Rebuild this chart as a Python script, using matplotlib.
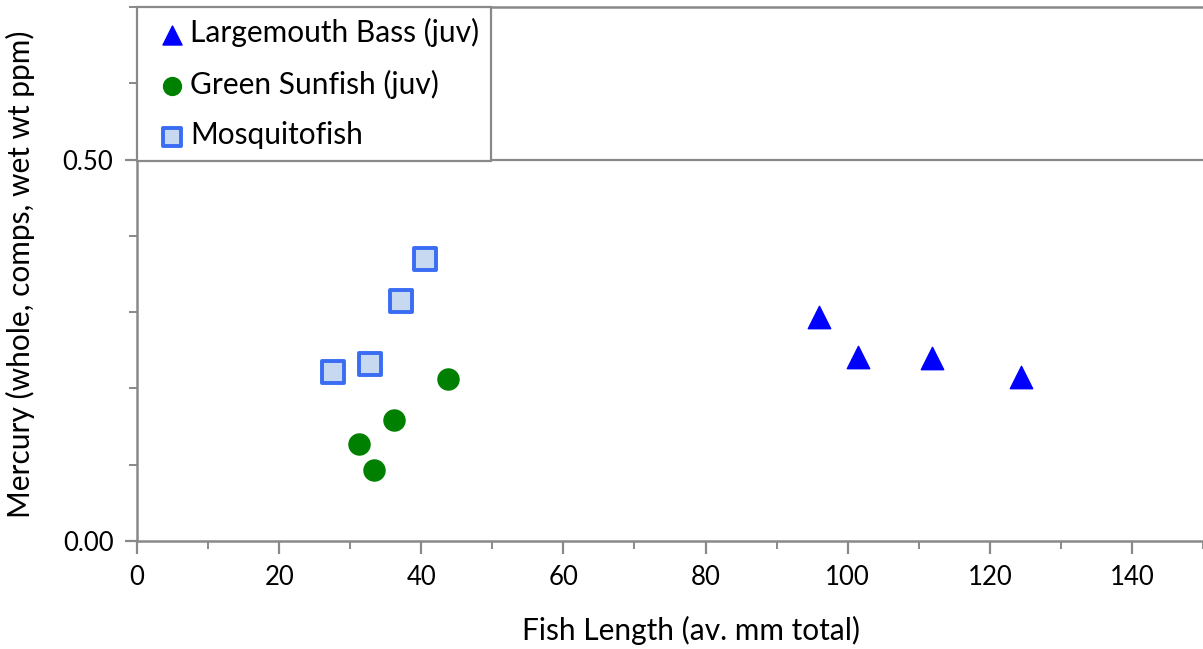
import matplotlib.pyplot as plt
from matplotlib.ticker import MultipleLocator

plt.rcParams['font.family'] = ['Lato', 'DejaVu Sans']

# fish length (mm) and mercury (ppm)
bass_len = [95.9, 101.4, 111.9, 124.4]
bass_hg = [0.294, 0.241, 0.240, 0.215]
sunfish_len = [43.7, 36.1, 31.3, 33.3]
sunfish_hg = [0.213, 0.159, 0.127, 0.093]
mosq_len = [27.6, 32.8, 37.1, 40.5]
mosq_hg = [0.222, 0.232, 0.315, 0.370]

grey = '#898989'

fig = plt.figure(figsize=(12.03, 6.49), dpi=100)
ax = fig.add_axes([137/1203, 108/649, 1066/1203, 534/649])

ax.axhline(0.5, color=grey, lw=1.6, zorder=0)
ax.scatter(bass_len, bass_hg, marker='^', s=260, color='#0000ff', label='Largemouth Bass (juv)', zorder=3)
ax.scatter(sunfish_len, sunfish_hg, marker='o', s=230, color='#008000', label='Green Sunfish (juv)', zorder=3)
ax.scatter(mosq_len, mosq_hg, marker='s', s=230, facecolor='#c6d9f1', edgecolor='#3a6cf4',
           linewidths=2.8, label='Mosquitofish', zorder=3)

ax.set_xlim(0, 150)
ax.set_ylim(0, 0.7)
ax.xaxis.set_major_locator(MultipleLocator(20))
ax.xaxis.set_minor_locator(MultipleLocator(10))
ax.yaxis.set_major_locator(MultipleLocator(0.5))
ax.yaxis.set_minor_locator(MultipleLocator(0.1))
ax.yaxis.set_major_formatter(lambda v, p: f'{v:.2f}')

for s in ['left', 'bottom', 'top']:
    ax.spines[s].set_color(grey)
    ax.spines[s].set_linewidth(1.8)
ax.spines['right'].set_visible(False)

ax.tick_params(which='major', length=9, width=1.6, color=grey, labelsize=18.5, pad=8)
ax.tick_params(which='minor', length=6, width=1.4, color=grey)

ax.set_xlabel('Fish Length (av. mm total)', fontsize=21.5)
ax.xaxis.set_label_coords(0.52, -0.14)
ax.set_ylabel('Mercury (whole, comps, wet wt ppm)', fontsize=21.5, labelpad=20)

leg = ax.legend(loc='upper left', bbox_to_anchor=(0, 1), borderaxespad=0, fancybox=False,
                framealpha=1, edgecolor=grey, fontsize=21.5, labelspacing=0.75,
                handletextpad=-0.2, handlelength=1.6, borderpad=0.38, scatterpoints=1,
                markerscale=0.85)
leg.get_frame().set_linewidth(1.6)

fig.savefig('out.png', dpi=100)
